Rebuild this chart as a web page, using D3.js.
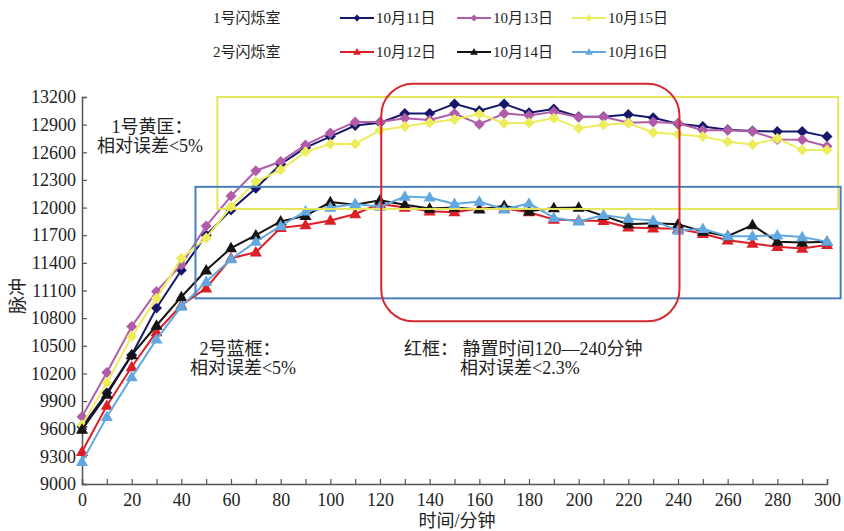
<!DOCTYPE html>
<html>
<head>
<meta charset="utf-8">
<script src="https://cdn.jsdelivr.net/npm/d3@7/dist/d3.min.js"></script>
<style>
  body { margin: 0; background: #fff; }
  svg { display: block; }
  text { font-family: "Liberation Serif", "Times New Roman", serif; fill: #222; }
  tspan.cjk { font-family: "Noto Sans CJK SC", sans-serif; }
  tspan.lat { font-family: "Liberation Serif", serif; }
</style>
</head>
<body>
<div id="chart"></div>
<script>
var width = 844, height = 531;

// time in minutes
var times = d3.range(0, 301, 10);

// 1号闪烁室
var d1011 = [9620, 9990, 10400, 10910, 11320, 11700, 11975, 12210, 12470, 12650, 12770,
  12890, 12920, 13020, 13020, 13125, 13050, 13125, 13030, 13070, 12985, 12985, 13010,
  12975, 12910, 12880, 12845, 12830, 12825, 12825, 12770];
var d1013 = [9730, 10210, 10710, 11090, 11380, 11800, 12125, 12400, 12500, 12680, 12810,
  12930, 12930, 12970, 12950, 13020, 12905, 13020, 13000, 13040, 12980, 12985, 12920,
  12930, 12915, 12840, 12840, 12825, 12740, 12735, 12665];
var d1015 = [9640, 10100, 10600, 11015, 11450, 11670, 12010, 12280, 12410, 12605, 12690,
  12690, 12840, 12880, 12920, 12955, 13015, 12915, 12920, 12970, 12860, 12900, 12915,
  12815, 12795, 12770, 12715, 12685, 12750, 12625, 12625];
// 2号闪烁室
var d1012 = [9350, 9850, 10270, 10650, 10940, 11125, 11450, 11515, 11780, 11810, 11860,
  11930, 12040, 12000, 11960, 11950, 11990, 11990, 11950, 11870, 11860, 11855, 11785,
  11775, 11770, 11715, 11645, 11610, 11575, 11555, 11595];
var d1014 = [9590, 9970, 10400, 10720, 11030, 11320, 11560, 11700, 11850, 11910, 12060,
  12030, 12080, 12030, 11990, 12000, 11980, 12020, 11960, 11995, 12000, 11910, 11820,
  11830, 11820, 11740, 11690, 11810, 11630, 11620, 11630];
var d1016 = [9240, 9730, 10160, 10570, 10925, 11195, 11440, 11630, 11800, 11960, 12000,
  12040, 12010, 12120, 12110, 12040, 12065, 11980, 12045, 11890, 11850, 11920, 11880,
  11860, 11750, 11770, 11690, 11690, 11700, 11680, 11630];

var seriesNames = ["10月11日", "10月13日", "10月15日", "10月12日", "10月14日", "10月16日"];
var seriesData = [d1011, d1013, d1015, d1012, d1014, d1016];
var seriesColor = ["#15186a", "#b05ca8", "#ecec5c", "#dc1f26", "#141414", "#62a8e0"];
var seriesShape = ["diamond", "diamond", "diamond", "triangle", "triangle", "triangle"];

var yTicks = d3.range(9000, 13201, 300);

var x = d3.scaleLinear().domain([0, 300]).range([82, 827]);
var y = d3.scaleLinear().domain([9000, 13200]).range([484, 97]);

var svg = d3.select("#chart").append("svg")
  .attr("width", width)
  .attr("height", height);

function markerPath(shape, r) {
  if (shape == "diamond") {
    return "M0," + (-r) + "L" + r + ",0L0," + r + "L" + (-r) + ",0Z";
  }
  var h = r * 1.9;
  return "M0," + (-h * 0.6) + "L" + (r * 1.1) + "," + (h * 0.4) + "L" + (-r * 1.1) + "," + (h * 0.4) + "Z";
}

// split chinese / latin so digits keep the serif face
function mixedText(el, str) {
  var re = /[\u3000-\u303f\u4e00-\u9fff\uff00-\uffef]+/g;
  var last = 0, m;
  while ((m = re.exec(str)) !== null) {
    if (m.index > last) el.append("tspan").attr("class", "lat").text(str.slice(last, m.index));
    el.append("tspan").attr("class", "cjk").text(m[0]);
    last = m.index + m[0].length;
  }
  if (last < str.length) el.append("tspan").attr("class", "lat").text(str.slice(last));
  return el;
}

// axes
var yAxis = d3.axisLeft(y).tickValues(yTicks).tickSize(-5).tickPadding(6)
  .tickFormat(d3.format("d"));
var xAxis = d3.axisBottom(x).tickValues(d3.range(0, 301, 10)).tickSize(-5).tickPadding(6)
  .tickFormat(function(d) { return d % 20 == 0 ? d : ""; });

var gy = svg.append("g").attr("transform", "translate(82,0)").call(yAxis);
var gx = svg.append("g").attr("transform", "translate(0,484)").call(xAxis);
[gy, gx].forEach(function(g) {
  g.attr("font-family", null);
  g.select(".domain").attr("stroke", "#555").attr("stroke-width", 1.5);
  g.selectAll(".tick line").attr("stroke", "#555").attr("stroke-width", 1.2);
  g.selectAll("text").style("font-size", "18px").attr("fill", "#222");
});
gx.selectAll("text").attr("dy", "0.9em");

// axis titles
mixedText(svg.append("text")
  .attr("x", 457).attr("y", 527)
  .attr("text-anchor", "middle")
  .style("font-size", "18px"), "时间/分钟");
mixedText(svg.append("text")
  .attr("transform", "translate(24,296) rotate(-90)")
  .attr("text-anchor", "middle")
  .style("font-size", "18px"), "脉冲");

// series
var line = d3.line()
  .x(function(d, i) { return x(times[i]); })
  .y(function(d) { return y(d); });

seriesData.forEach(function(vals, k) {
  var g = svg.append("g");
  g.append("path")
    .attr("d", line(vals))
    .attr("fill", "none")
    .attr("stroke", seriesColor[k])
    .attr("stroke-width", 2);
  g.selectAll("path.m")
    .data(vals)
    .enter().append("path")
    .attr("class", "m")
    .attr("transform", function(d, i) { return "translate(" + x(times[i]) + "," + y(d) + ")"; })
    .attr("d", markerPath(seriesShape[k], 5.5))
    .attr("fill", seriesColor[k]);
});

// annotation boxes
svg.append("rect")
  .attr("x", x(54.5)).attr("y", y(13200))
  .attr("width", x(304.5) - x(54.5))
  .attr("height", y(11985) - y(13200))
  .attr("fill", "none").attr("stroke", "#e6e65a").attr("stroke-width", 2);

svg.append("rect")
  .attr("x", x(45.7)).attr("y", y(12225))
  .attr("width", x(305.5) - x(45.7))
  .attr("height", y(11015) - y(12225))
  .attr("fill", "none").attr("stroke", "#4a7fbf").attr("stroke-width", 2);

svg.append("rect")
  .attr("x", x(120.5)).attr("y", y(13345))
  .attr("width", x(240.6) - x(120.5))
  .attr("height", y(10765) - y(13345))
  .attr("rx", 32).attr("ry", 32)
  .attr("fill", "none").attr("stroke", "#d42a2f").attr("stroke-width", 2);

// annotation texts
var notes = [
  { t: "1号黄匡：", x: 152, y: 133, a: "middle" },
  { t: "相对误差<5%", x: 150, y: 152, a: "middle" },
  { t: "2号蓝框：", x: 240, y: 355, a: "middle" },
  { t: "相对误差<5%", x: 243, y: 374, a: "middle" },
  { t: "红框：  静置时间120—240分钟", x: 404, y: 355, a: "start" },
  { t: "相对误差<2.3%", x: 460, y: 374, a: "start" }
];
notes.forEach(function(d) {
  mixedText(svg.append("text")
    .attr("x", d.x).attr("y", d.y)
    .attr("text-anchor", d.a)
    .style("font-size", "18px"), d.t);
});

// legend
var legRows = ["1号闪烁室", "2号闪烁室"];
var legRowY = [18, 52];
var legColX = [340, 457, 572];
legRows.forEach(function(r, i) {
  mixedText(svg.append("text")
    .attr("x", 213).attr("y", legRowY[i] + 5)
    .style("font-size", "15px"), r);
});
seriesNames.forEach(function(name, k) {
  var row = k < 3 ? 0 : 1;
  var col = k % 3;
  var lx = legColX[col], ly = legRowY[row];
  var g = svg.append("g");
  g.append("line")
    .attr("x1", lx).attr("x2", lx + 34)
    .attr("y1", ly).attr("y2", ly)
    .attr("stroke", seriesColor[k]).attr("stroke-width", 2);
  g.append("path")
    .attr("transform", "translate(" + (lx + 17) + "," + ly + ")")
    .attr("d", markerPath(seriesShape[k], 3.5))
    .attr("fill", seriesColor[k]);
  mixedText(g.append("text")
    .attr("x", lx + 36).attr("y", ly + 5)
    .style("font-size", "15px"), name);
});
</script>
</body>
</html>
